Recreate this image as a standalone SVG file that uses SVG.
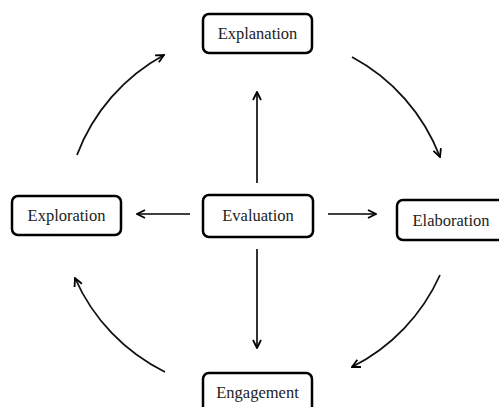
<svg xmlns="http://www.w3.org/2000/svg" width="499" height="407" viewBox="0 0 499 407">
<defs>
<style>
.box{fill:#fff;stroke:#000;stroke-width:2.5}
.lbl{font-family:"Liberation Serif","DejaVu Serif",serif;font-size:16.5px;fill:#222;text-anchor:middle}
.ln{fill:none;stroke:#000;stroke-width:1.6}
.cv{fill:none;stroke:#111;stroke-width:1.8}
</style>
<marker id="ah" viewBox="0 0 10 10" refX="9" refY="5" markerWidth="10" markerHeight="10" markerUnits="userSpaceOnUse" orient="auto">
<path d="M1,1 L9,5 L1,9" fill="none" stroke="#000" stroke-width="1.8"/>
</marker>
</defs>
<rect width="499" height="407" fill="#fff"/>
<g id="connectors">
<line class="ln" x1="257" y1="183" x2="257" y2="92" marker-end="url(#ah)"/>
<line class="ln" x1="190" y1="214" x2="137" y2="214" marker-end="url(#ah)"/>
<line class="ln" x1="328" y1="214" x2="376" y2="214" marker-end="url(#ah)"/>
<line class="ln" x1="257" y1="249" x2="257" y2="348" marker-end="url(#ah)"/>
<path class="cv" d="M77,155 A190,190 0 0 1 164,55" marker-end="url(#ah)"/>
<path class="cv" d="M352,57 A190,190 0 0 1 440,157" marker-end="url(#ah)"/>
<path class="cv" d="M440,275 A190,190 0 0 1 352,367" marker-end="url(#ah)"/>
<path class="cv" d="M165,372 A190,190 0 0 1 75,278" marker-end="url(#ah)"/>
</g>
<g id="explanation">
<rect class="box" x="203" y="14" width="109" height="39" rx="6"/>
<text class="lbl" x="257.5" y="39">Explanation</text>
</g>
<g id="exploration">
<rect class="box" x="12" y="196" width="109" height="39" rx="6"/>
<text class="lbl" x="66.5" y="221">Exploration</text>
</g>
<g id="evaluation">
<rect class="box" x="203" y="195" width="110" height="42" rx="6"/>
<text class="lbl" x="258" y="221">Evaluation</text>
</g>
<g id="elaboration">
<rect class="box" x="397" y="200" width="110" height="40" rx="6"/>
<text class="lbl" x="451" y="226">Elaboration</text>
</g>
<g id="engagement">
<rect class="box" x="203" y="373" width="109" height="42" rx="6"/>
<text class="lbl" x="257.5" y="398">Engagement</text>
</g>
</svg>
